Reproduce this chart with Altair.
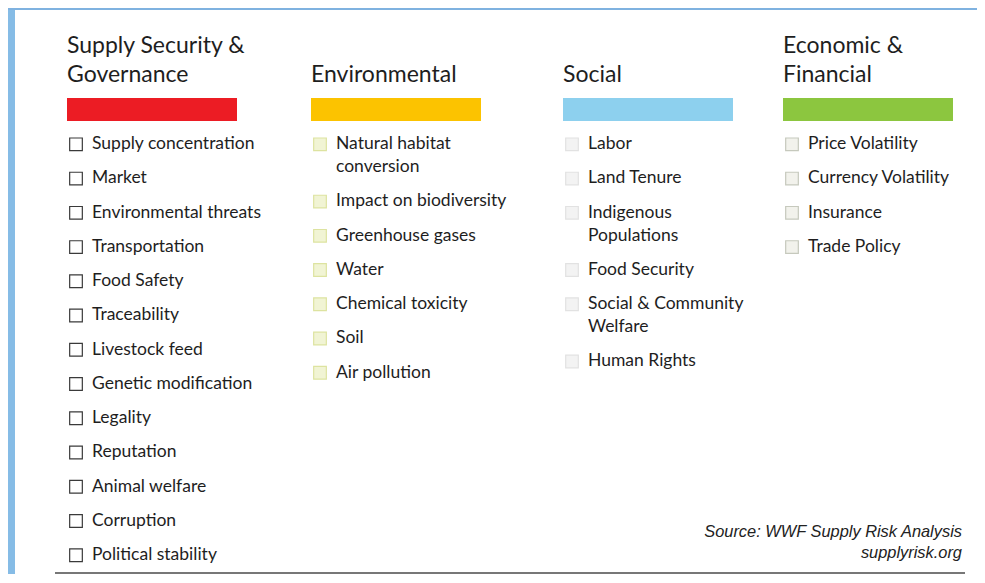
import altair as alt
import pandas as pd

# ---------------- data ----------------
GROUPS = ["Supply Security & Governance", "Environmental", "Social", "Economic & Financial"]
TITLE_LINES = [["Supply Security &", "Governance"], ["Environmental"], ["Social"], ["Economic &", "Financial"]]

ITEMS_SUPPLY = ["Supply concentration", "Market", "Environmental threats", "Transportation",
                "Food Safety", "Traceability", "Livestock feed", "Genetic modification",
                "Legality", "Reputation", "Animal welfare", "Corruption", "Political stability"]
ITEMS_ENV = ["Natural habitat\nconversion", "Impact on biodiversity", "Greenhouse gases",
             "Water", "Chemical toxicity", "Soil", "Air pollution"]
ITEMS_SOCIAL = ["Labor", "Land Tenure", "Indigenous\nPopulations", "Food Security",
                "Social & Community\nWelfare", "Human Rights"]
ITEMS_ECON = ["Price Volatility", "Currency Volatility", "Insurance", "Trade Policy"]
ITEMS = [ITEMS_SUPPLY, ITEMS_ENV, ITEMS_SOCIAL, ITEMS_ECON]

SOURCE_LINES = ["Source: WWF Supply Risk Analysis", "supplyrisk.org"]

# ---------------- styles ----------------
BAR_COLORS = ["#ec1c24", "#fcc300", "#8dd0ee", "#8cc63f"]
BOX_STROKE = ["#3a3a3a", "#dde3a0", "#e2e2e2", "#c6c9bd"]
BOX_FILL = ["#ffffff", "#f1f4d4", "#f3f3f3", "#f2f2ec"]
TEXT_COLOR = "#1e1e1e"
FONT = "Lato"

W, H = 969, 566
COL_RANGE = [59, 303, 555, 775]          # column starts (plot px)
ROW_RANGE = [141, 552]                   # baseline of item row 0 and row 12
STEP = (ROW_RANGE[1] - ROW_RANGE[0]) / 12
WRAP = 23 / STEP                         # second line inside an item
TITLE_SLOT = (74 - ROW_RANGE[0]) / STEP  # baseline of last title line
TITLE_LEAD = 29 / STEP
BAR_SLOT = (101.5 - ROW_RANGE[0]) / STEP

# ---------------- tables ----------------
item_rows, box_rows = [], []
for gi, items in enumerate(ITEMS):
    extra = 0
    for ii, item in enumerate(items):
        lines = item.split("\n")
        box_rows.append({"group": GROUPS[gi], "gi": gi, "slot": ii + extra * WRAP})
        for li, line in enumerate(lines):
            item_rows.append({"group": GROUPS[gi], "gi": gi, "slot": ii + (extra + li) * WRAP, "text": line})
        extra += len(lines) - 1
items_df = pd.DataFrame(item_rows)
boxes_df = pd.DataFrame(box_rows)

title_rows = []
for gi, tl in enumerate(TITLE_LINES):
    n = len(tl)
    for li, line in enumerate(tl):
        title_rows.append({"group": GROUPS[gi], "gi": gi, "slot": TITLE_SLOT - (n - 1 - li) * TITLE_LEAD, "text": line})
titles_df = pd.DataFrame(title_rows)

bars_df = pd.DataFrame({"group": GROUPS, "gi": list(range(len(GROUPS))), "slot": [BAR_SLOT] * len(GROUPS)})

xs = alt.Scale(domain=[0, 1, 2, 3], range=COL_RANGE, nice=False, zero=False)
ys = alt.Scale(domain=[0, 12], range=ROW_RANGE, nice=False, zero=False)
X = alt.X("gi:Q", scale=xs, axis=None)
Y = alt.Y("slot:Q", scale=ys, axis=None)

# ---------------- frame ----------------
frame_df = pd.DataFrame({"k": [0]})
left_bar = alt.Chart(frame_df).mark_rect(color="#86bce6").encode(
    x=alt.value(0), x2=alt.value(7), y=alt.value(0), y2=alt.value(H))
top_line = alt.Chart(frame_df).mark_rule(color="#7fb2e0", strokeWidth=2).encode(
    x=alt.value(0), x2=alt.value(W), y=alt.value(1))
bottom_line = alt.Chart(frame_df).mark_rule(color="#4a4a4a", strokeWidth=1.5).encode(
    x=alt.value(47), x2=alt.value(957), y=alt.value(H - 1))

# ---------------- content ----------------
titles = alt.Chart(titles_df).mark_text(
    align="left", baseline="alphabetic", font=FONT, fontSize=23, color=TEXT_COLOR
).encode(x=X, y=Y, text="text:N")

bars = alt.Chart(bars_df).mark_point(
    shape="M0,-0.1353H2V0.1353H0Z", size=170 * 170, filled=True, opacity=1, strokeWidth=0
).encode(x=X, y=Y, fill=alt.Fill("group:N", scale=alt.Scale(domain=GROUPS, range=BAR_COLORS), legend=None))

boxes = alt.Chart(boxes_df).mark_square(
    size=160, filled=True, opacity=1, strokeWidth=1.2, xOffset=9, yOffset=-4.7
).encode(
    x=X, y=Y,
    fill=alt.Fill("group:N", scale=alt.Scale(domain=GROUPS, range=BOX_FILL), legend=None),
    stroke=alt.Stroke("group:N", scale=alt.Scale(domain=GROUPS, range=BOX_STROKE), legend=None),
)

item_text = alt.Chart(items_df).mark_text(
    align="left", baseline="alphabetic", dx=25, font=FONT, fontSize=17.5, color=TEXT_COLOR
).encode(x=X, y=Y, text="text:N")

source_df = pd.DataFrame({"line": list(range(len(SOURCE_LINES))), "text": SOURCE_LINES})
source = alt.Chart(source_df).mark_text(
    align="right", baseline="alphabetic", font="Liberation Sans", fontStyle="italic",
    fontSize=16.4, color="#222222"
).encode(
    x=alt.value(954),
    y=alt.Y("line:Q", scale=alt.Scale(domain=[0, 1], range=[529, 550], nice=False, zero=False), axis=None),
    text="text:N",
)

chart = alt.layer(
    left_bar, top_line, bottom_line, bars, boxes, titles, item_text, source
).resolve_scale(fill="independent", stroke="independent", y="independent").properties(
    width=W, height=H, padding=0, autosize=alt.AutoSizeParams(type="none"), background="#ffffff"
).configure_view(strokeWidth=0)

chart.save("out.html", embed_options={"renderer": "svg", "actions": False})
